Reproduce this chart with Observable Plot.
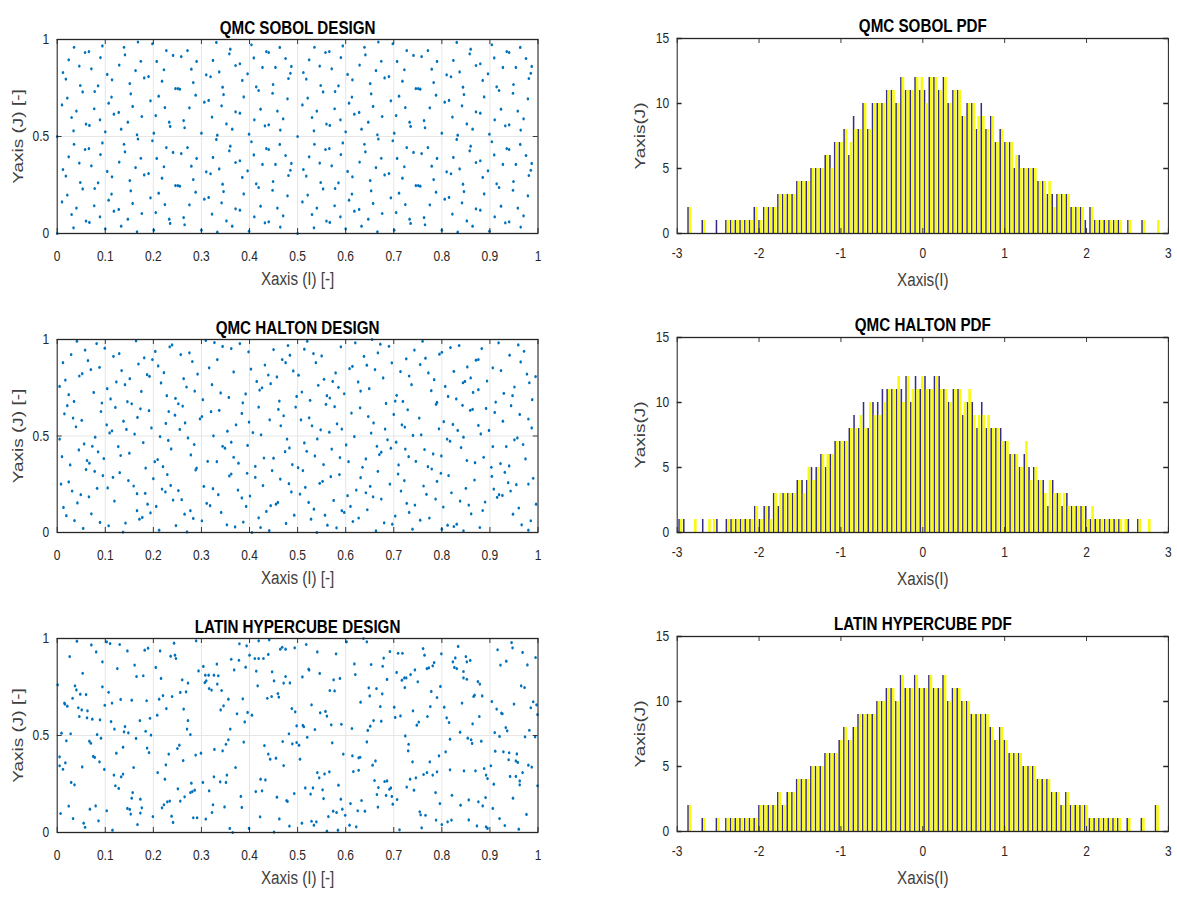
<!DOCTYPE html>
<html><head><meta charset="utf-8">
<script src="https://cdn.jsdelivr.net/npm/d3@7"></script>
<script src="https://cdn.jsdelivr.net/npm/@observablehq/plot@0.6"></script>
<style>
html,body{margin:0;padding:0;background:#fff;}
#page{position:relative;width:1177px;height:900px;overflow:hidden;background:#fff;}
#stage{position:absolute;left:0;top:0;width:1472px;height:900px;transform:scaleX(0.8);transform-origin:0 0;}
#stage svg{position:absolute;overflow:visible;}
</style></head><body><div id="page"><div id="stage"></div></div>
<script>
// ---------- DATA ----------
const designXTicks = [0,0.1,0.2,0.3,0.4,0.5,0.6,0.7,0.8,0.9,1];
const designYTicks = [0,0.5,1];
const pdfXTicks = [-3,-2,-1,0,1,2,3];
const pdfYTicks = [0,5,10,15];

const sobolX = [
.035,.058,.066,.094,.024,.090,.046,.071,.012,.018,.048,.053,.078,.085,.021,.010,.040,.077,.030,.060,.067,.089,.034,0,.139,.141,.168,.129,.174,.104,.114,.163,.181,.190,.151,.153,.113,.107,.157,.194,.118,.128,.176,.147,.133,.166,.100,.198,.227,.241,.258,.271,.207,.290,.222,.279,.218,.283,.246,.251,.255,.288,.211,.224,.275,.205,.263,.233,.235,.265,.201,.331,.360,.358,.324,.371,.380,.337,.310,.319,.385,.396,.346,.344,.388,.306,.315,.342,.322,.371,.380,.352,.364,.333,.300,.404,.435,.440,.463,.409,.475,.427,.454,.487,.414,.419,.448,.449,.481,.485,.479,.423,.458,.470,.410,.432,.440,.464,.399,
.535,.558,.566,.594,.524,.590,.546,.571,.512,.518,.548,.553,.578,.585,.521,.510,.540,.577,.530,.560,.567,.589,.534,.5,.639,.641,.668,.629,.674,.604,.614,.663,.681,.690,.651,.653,.613,.607,.657,.694,.618,.628,.676,.647,.633,.666,.600,.698,.727,.741,.758,.771,.707,.790,.722,.779,.718,.783,.746,.751,.755,.788,.711,.724,.775,.705,.763,.733,.735,.765,.701,.831,.860,.858,.824,.871,.880,.837,.810,.819,.885,.896,.846,.844,.888,.806,.815,.842,.822,.871,.880,.852,.864,.833,.800,.904,.935,.940,.963,.909,.975,.927,.954,.987,.914,.919,.948,.949,.981,.985,.979,.923,.958,.970,.910,.932,.940,.964,.899,
.035,.058,.066,.094,.024,.090,.046,.071,.012,.018,.048,.053,.078,.085,.021,.010,.040,.077,.030,.060,.067,.089,.034,0,.139,.141,.168,.129,.174,.104,.114,.163,.181,.190,.151,.153,.113,.107,.157,.194,.118,.128,.176,.147,.133,.166,.100,.198,.227,.241,.258,.271,.207,.290,.222,.279,.218,.283,.246,.251,.255,.288,.211,.224,.275,.205,.263,.233,.235,.265,.201,.331,.360,.358,.324,.371,.380,.337,.310,.319,.385,.396,.346,.344,.388,.306,.315,.342,.322,.371,.380,.352,.364,.333,.300,.404,.435,.440,.463,.409,.475,.427,.454,.487,.414,.419,.448,.449,.481,.485,.479,.423,.458,.470,.410,.432,.440,.464,.399,
.535,.558,.566,.594,.524,.590,.546,.571,.512,.518,.548,.553,.578,.585,.521,.510,.540,.577,.530,.560,.567,.589,.534,.5,.639,.641,.668,.629,.674,.604,.614,.663,.681,.690,.651,.653,.613,.607,.657,.694,.618,.628,.676,.647,.633,.666,.600,.698,.727,.741,.758,.771,.707,.790,.722,.779,.718,.783,.746,.751,.755,.788,.711,.724,.775,.705,.763,.733,.735,.765,.701,.831,.860,.858,.824,.871,.880,.837,.810,.819,.885,.896,.846,.844,.888,.806,.815,.842,.822,.871,.880,.852,.864,.833,.800,.904,.935,.940,.963,.909,.975,.927,.954,.987,.914,.919,.948,.949,.981,.985,.979,.923,.958,.970,.910,.932,.940,.964,.899
];
const sobolY = [
.460,.433,.438,.467,.395,.407,.363,.349,.330,.296,.263,.230,.232,.261,.198,.163,.131,.143,.098,.064,.057,.086,.029,0,.460,.421,.487,.368,.388,.320,.292,.340,.302,.309,.273,.220,.203,.172,.155,.184,.115,.124,.103,.074,.038,.009,.024,.478,.443,.418,.412,.443,.387,.387,.344,.347,.285,.278,.247,.247,.244,.213,.208,.149,.148,.108,.082,.074,.052,.045,.017,.485,.450,.426,.392,.366,.375,.333,.318,.308,.289,.323,.216,.254,.204,.177,.186,.158,.100,.127,.120,.065,.038,.007,.017,.473,.438,.433,.459,.405,.402,.356,.356,.361,.256,.237,.223,.268,.299,.326,.194,.141,.131,.091,.086,.055,.060,.033,.012,
.460,.433,.438,.467,.395,.407,.363,.349,.330,.296,.263,.230,.232,.261,.198,.163,.131,.143,.098,.064,.057,.086,.029,0,.460,.421,.487,.368,.388,.320,.292,.340,.302,.309,.273,.220,.203,.172,.155,.184,.115,.124,.103,.074,.038,.009,.024,.478,.443,.418,.412,.443,.387,.387,.344,.347,.285,.278,.247,.247,.244,.213,.208,.149,.148,.108,.082,.074,.052,.045,.017,.485,.450,.426,.392,.366,.375,.333,.318,.308,.289,.323,.216,.254,.204,.177,.186,.158,.100,.127,.120,.065,.038,.007,.017,.473,.438,.433,.459,.405,.402,.356,.356,.361,.256,.237,.223,.268,.299,.326,.194,.141,.131,.091,.086,.055,.060,.033,.012,
.960,.933,.938,.967,.895,.907,.863,.849,.830,.796,.763,.730,.732,.761,.698,.663,.631,.643,.598,.564,.557,.586,.529,.5,.960,.921,.987,.868,.888,.820,.792,.840,.802,.809,.773,.720,.703,.672,.655,.684,.615,.624,.603,.574,.538,.509,.524,.978,.943,.918,.912,.943,.887,.887,.844,.847,.785,.778,.747,.747,.744,.713,.708,.649,.648,.608,.582,.574,.552,.545,.517,.985,.950,.926,.892,.866,.875,.833,.818,.808,.789,.823,.716,.754,.704,.677,.686,.658,.600,.627,.620,.565,.538,.507,.517,.973,.938,.933,.959,.905,.902,.856,.856,.861,.756,.737,.723,.768,.799,.826,.694,.641,.631,.591,.586,.555,.560,.533,.512,
.960,.933,.938,.967,.895,.907,.863,.849,.830,.796,.763,.730,.732,.761,.698,.663,.631,.643,.598,.564,.557,.586,.529,.5,.960,.921,.987,.868,.888,.820,.792,.840,.802,.809,.773,.720,.703,.672,.655,.684,.615,.624,.603,.574,.538,.509,.524,.978,.943,.918,.912,.943,.887,.887,.844,.847,.785,.778,.747,.747,.744,.713,.708,.649,.648,.608,.582,.574,.552,.545,.517,.985,.950,.926,.892,.866,.875,.833,.818,.808,.789,.823,.716,.754,.704,.677,.686,.658,.600,.627,.620,.565,.538,.507,.517,.973,.938,.933,.959,.905,.902,.856,.856,.861,.756,.737,.723,.768,.799,.826,.694,.641,.631,.591,.586,.555,.560,.533,.512
];

const haltonPoints = [
[.041,.991],[.082,.979],[.058,.945],[.029,.922],[.099,.955],[.012,.880],[.064,.891],[.070,.844],[.088,.856],[.046,.811],[.052,.823],[.017,.790],[.076,.726],[.005,.757],[.024,.714],[.035,.679],[.021,.657],[.093,.671],[.091,.627],[.015,.615],[.033,.593],[.051,.581],[.039,.548],[.079,.494],[.005,.484],[.056,.459],[.045,.428],[.073,.447],[.085,.418],[.010,.393],[.062,.373],[.067,.359],[.097,.383],[.027,.350],[.060,.326],[.078,.317],[.095,.295],[.008,.251],[.024,.262],[.031,.215],[.049,.196],[.066,.185],[.083,.229],[.042,.153],[.013,.130],[.071,.097],[.019,.087],[.036,.062],[.089,.052],[.054,.021],
[.164,.993],[.117,.913],[.129,.927],[.181,.905],[.169,.873],[.198,.896],[.134,.839],[.187,.818],[.192,.809],[.123,.780],[.151,.797],[.141,.766],[.175,.731],[.104,.745],[.111,.692],[.146,.678],[.155,.667],[.121,.648],[.173,.641],[.191,.631],[.138,.577],[.167,.596],[.103,.558],[.144,.534],[.114,.527],[.109,.516],[.196,.542],[.161,.510],[.127,.445],[.179,.466],[.132,.399],[.150,.411],[.116,.286],[.130,.310],[.148,.269],[.184,.334],[.105,.231],[.159,.241],[.166,.201],[.183,.203],[.119,.163],[.188,.147],[.166,.113],[.194,.102],[.171,.069],[.177,.078],[.107,.035],[.142,.049],[.137,.002],
[.204,.938],[.234,.962],[.239,.972],[.257,.922],[.275,.931],[.281,.886],[.210,.863],[.222,.828],[.292,.821],[.263,.797],[.216,.775],[.269,.754],[.286,.733],[.228,.709],[.246,.695],[.252,.667],[.261,.655],[.232,.627],[.297,.589],[.301,.601],[.245,.608],[.226,.565],[.266,.568],[.255,.534],[.214,.497],[.231,.477],[.272,.490],[.285,.456],[.237,.433],[.278,.402],[.203,.367],[.209,.378],[.220,.341],[.290,.334],[.288,.324],[.229,.300],[.200,.279],[.236,.244],[.218,.225],[.225,.210],[.206,.135],[.252,.217],[.259,.170],[.241,.168],[.265,.095],[.283,.073],[.277,.113],[.247,.036],[.270,.003],[.212,.012],
[.309,.995],[.327,.984],[.344,.964],[.362,.953],[.380,.979],[.398,.936],[.333,.896],[.316,.853],[.367,.832],[.322,.766],[.303,.688],[.340,.723],[.357,.700],[.392,.718],[.386,.672],[.337,.633],[.320,.626],[.384,.617],[.372,.558],[.354,.525],[.399,.572],[.325,.501],[.344,.447],[.349,.437],[.362,.468],[.396,.451],[.367,.390],[.313,.369],[.332,.367],[.377,.359],[.395,.307],[.358,.293],[.362,.303],[.305,.239],[.324,.227],[.335,.196],[.311,.151],[.318,.139],[.341,.104],[.376,.220],[.384,.179],[.401,.189],[.393,.135],[.353,.040],[.370,.029],[.387,.054],[.301,.061],
[.450,.948],[.480,.969],[.484,.919],[.468,.896],[.475,.880],[.432,.868],[.403,.847],[.491,.837],[.439,.816],[.457,.806],[.415,.783],[.444,.771],[.426,.750],[.421,.738],[.498,.705],[.462,.681],[.496,.650],[.419,.650],[.460,.638],[.471,.605],[.442,.584],[.465,.553],[.407,.518],[.424,.506],[.478,.484],[.483,.438],[.474,.419],[.430,.386],[.450,.385],[.489,.352],[.412,.343],[.447,.321],[.464,.277],[.412,.286],[.428,.243],[.482,.253],[.487,.210],[.455,.147],[.459,.156],[.444,.139],[.435,.109],[.419,.076],[.476,.047],[.441,.010],[.423,.026],[.405,0],
[.520,.991],[.514,.950],[.533,.927],[.538,.880],[.550,.915],[.590,.962],[.555,.794],[.579,.827],[.573,.783],[.585,.752],[.543,.763],[.561,.709],[.567,.697],[.559,.664],[.577,.652],[.597,.719],[.526,.685],[.509,.728],[.507,.584],[.524,.594],[.530,.553],[.548,.532],[.566,.520],[.582,.563],[.592,.536],[.541,.485],[.502,.815],[.514,.464],[.519,.421],[.536,.397],[.554,.352],[.571,.432],[.588,.388],[.587,.300],[.569,.289],[.552,.265],[.546,.255],[.511,.321],[.501,.336],[.516,.234],[.505,.199],[.523,.156],[.534,.121],[.575,.166],[.592,.113],[.597,.104],[.557,.090],[.528,.069],[.562,.038],[.581,.024],[.540,0],[.493,.090],
[.620,.983],[.655,1],[.672,.976],[.690,.965],[.638,.913],[.667,.931],[.608,.849],[.614,.861],[.644,.867],[.696,.879],[.661,.844],[.678,.801],[.626,.780],[.631,.733],[.649,.745],[.612,.619],[.630,.646],[.647,.601],[.658,.568],[.684,.669],[.700,.612],[.706,.711],[.682,.536],[.653,.515],[.618,.497],[.601,.454],[.687,.480],[.694,.437],[.665,.447],[.642,.381],[.635,.338],[.631,.284],[.606,.367],[.667,.317],[.674,.416],[.670,.404],[.692,.251],[.651,.239],[.642,.206],[.622,.220],[.657,.185],[.674,.173],[.604,.191],[.610,.135],[.645,.118],[.627,.075],[.615,.057],[.680,.050],[.663,.009],[.697,.043],[.703,.085],
[.743,.945],[.726,.900],[.760,.991],[.766,.903],[.755,.870],[.714,.834],[.732,.811],[.772,.827],[.784,.792],[.737,.766],[.778,.735],[.795,.924],[.800,.934],[.703,.681],[.719,.679],[.729,.636],[.753,.593],[.717,.558],[.723,.546],[.740,.503],[.757,.506],[.788,.664],[.790,.674],[.794,.537],[.705,.468],[.724,.432],[.731,.393],[.764,.430],[.746,.369],[.771,.341],[.779,.329],[.782,.407],[.799,.397],[.798,.307],[.790,.265],[.710,.350],[.709,.303],[.722,.269],[.715,.215],[.762,.241],[.768,.198],[.787,.173],[.727,.151],[.732,.104],[.744,.142],[.755,.064],[.774,.075],[.739,.017],[.800,.017],
[.818,.958],[.836,.969],[.883,.953],[.871,.893],[.876,.896],[.853,.858],[.825,.835],[.807,.757],[.813,.705],[.830,.692],[.843,.659],[.859,.633],[.864,.638],[.848,.783],[.844,.776],[.860,.801],[.894,.785],[.865,.726],[.876,.740],[.892,.643],[.804,.574],[.823,.560],[.833,.529],[.845,.494],[.876,.555],[.881,.511],[.898,.529],[.811,.484],[.817,.473],[.840,.440],[.852,.373],[.869,.362],[.887,.390],[.814,.295],[.820,.206],[.803,.132],[.812,.038],[.825,.031],[.831,.043],[.845,.009],[.850,.229],[.838,.163],[.856,.142],[.861,.097],[.879,.026],[.885,.114],[.890,.158],[.868,.272],
[.918,.983],[.959,.972],[.971,.939],[.941,.919],[.964,.884],[.906,.853],[.923,.839],[.977,.821],[.982,.776],[.995,.808],[.929,.721],[.947,.709],[.944,.657],[.951,.754],[.912,.676],[.910,.622],[.962,.612],[.980,.588],[.988,.688],[.927,.577],[.987,.542],[.906,.445],[.957,.490],[.951,.480],[.969,.456],[.934,.445],[.974,.381],[.922,.357],[.940,.345],[.903,.338],[.904,.291],[.931,.312],[.908,.225],[.938,.258],[.955,.248],[.990,.281],[.980,.251],[.919,.196],[.915,.182],[.926,.192],[.943,.215],[.996,.147],[.948,.095],[.960,.127],[.966,.040],[.980,.012],[.985,.061]
];

const lhsPoints = [
[.041,.986],[.071,.967],[.081,.931],[.026,.907],[.053,.821],[.094,.880],[.001,.761],[.037,.756],[.040,.735],[.048,.713],[.060,.711],[.032,.692],[.015,.667],[.016,.662],[.021,.651],[.044,.643],[.051,.632],[.063,.627],[.046,.598],[.062,.591],[.073,.584],[.089,.581],[.094,.751],[.099,.656],[.009,.512],[.028,.509],[.019,.473],[.067,.471],[.070,.460],[.083,.505],[.091,.486],[.005,.390],[.017,.359],[.005,.344],[.012,.326],[.052,.338],[.075,.392],[.078,.387],[.088,.364],[.098,.325],[.029,.258],[.036,.246],[.024,.136],[.007,.098],[.033,.072],[.055,.048],[.058,.027],[.068,.120],[.080,.137],[.086,.060],
[.103,.983],[.110,.974],[.130,.969],[.146,.936],[.182,.940],[.189,.950],[.125,.845],[.161,.863],[.165,.804],[.179,.808],[.107,.723],[.114,.667],[.132,.686],[.155,.682],[.186,.679],[.119,.533],[.141,.546],[.139,.519],[.148,.514],[.164,.485],[.172,.577],[.184,.522],[.193,.589],[.112,.572],[.123,.409],[.137,.440],[.187,.435],[.191,.412],[.118,.296],[.133,.287],[.137,.301],[.159,.335],[.121,.241],[.128,.227],[.146,.124],[.151,.119],[.153,.095],[.157,.206],[.155,.177],[.173,.172],[.176,.127],[.173,.100],[.167,.041],[.115,.012],[.103,.112],
[.205,.851],[.214,.936],[.236,.909],[.245,.914],[.247,.897],[.243,.976],[.216,.794],[.260,.787],[.272,.770],[.256,.722],[.268,.725],[.289,.988],[.294,.833],[.212,.687],[.220,.706],[.239,.701],[.227,.639],[.208,.605],[.195,.502],[.232,.404],[.250,.433],[.254,.450],[.262,.371],[.288,.399],[.299,.409],[.270,.533],[.272,.577],[.263,.636],[.277,.505],[.209,.309],[.224,.275],[.226,.349],[.251,.225],[.256,.162],[.265,.184],[.277,.206],[.281,.211],[.286,.218],[.279,.254],[.218,.127],[.222,.143],[.229,.158],[.234,.162],[.238,.084],[.241,.052],[.283,.076],[.291,.076],[.199,.082],
[.304,.856],[.308,.811],[.315,.811],[.326,.811],[.335,.808],[.307,.773],[.310,.782],[.316,.742],[.321,.734],[.332,.868],[.333,.765],[.342,.732],[.362,.893],[.368,.838],[.378,.888],[.392,.852],[.394,.962],[.379,.973],[.400,.914],[.346,.653],[.340,.632],[.356,.687],[.374,.612],[.386,.689],[.390,.570],[.396,.619],[.405,.605],[.360,.533],[.327,.428],[.344,.421],[.351,.455],[.356,.478],[.388,.466],[.371,.335],[.353,.296],[.351,.258],[.339,.261],[.326,.287],[.316,.215],[.303,.258],[.324,.143],[.322,.103],[.309,.069],[.348,.132],[.382,.186],[.384,.129],[.359,.021],[.365,0],[.399,.021],
[.419,.988],[.441,.993],[.411,.897],[.419,.897],[.429,.897],[.439,.918],[.464,.945],[.468,.955],[.475,.945],[.494,.952],[.414,.832],[.417,.756],[.447,.828],[.451,.782],[.471,.770],[.484,.771],[.475,.804],[.446,.701],[.437,.692],[.459,.716],[.461,.698],[.488,.639],[.498,.550],[.482,.509],[.498,.464],[.489,.457],[.431,.448],[.469,.469],[.439,.404],[.443,.378],[.455,.383],[.471,.345],[.423,.275],[.433,.271],[.426,.215],[.413,.211],[.457,.182],[.477,.165],[.479,.160],[.462,.070],[.422,.081],[.451,.002],[.483,.033],
[.495,.622],[.503,.450],[.505,.378],[.493,.201],[.518,.969],[.541,.931],[.580,.921],[.523,.842],[.524,.837],[.546,.820],[.510,.802],[.567,.732],[.577,.730],[.575,.787],[.588,.794],[.529,.658],[.547,.617],[.558,.624],[.561,.600],[.511,.552],[.513,.545],[.536,.531],[.570,.555],[.591,.558],[.520,.491],[.572,.462],[.541,.309],[.545,.282],[.556,.302],[.566,.313],[.585,.244],[.516,.230],[.527,.198],[.532,.230],[.552,.220],[.554,.175],[.564,.082],[.574,.110],[.581,.103],[.593,.120],[.590,.172],[.509,.048],[.529,.058],[.534,.038],[.539,.055],[.561,.007],[.584,.012],[.599,.089],[.595,.404],
[.602,.983],[.637,1],[.644,.983],[.618,.869],[.620,.814],[.653,.866],[.679,.899],[.677,.857],[.692,.933],[.686,.789],[.648,.746],[.650,.704],[.664,.742],[.676,.715],[.631,.672],[.672,.649],[.658,.577],[.674,.574],[.613,.536],[.646,.526],[.651,.548],[.644,.467],[.614,.395],[.627,.385],[.630,.388],[.616,.314],[.627,.321],[.656,.347],[.662,.369],[.660,.268],[.668,.232],[.665,.196],[.681,.263],[.686,.266],[.694,.230],[.691,.223],[.684,.191],[.696,.186],[.707,.170],[.698,.146],[.667,.131],[.633,.165],[.640,.110],[.625,.112],[.610,.149],[.608,.038],[.622,.029],
[.709,.924],[.718,.924],[.706,.825],[.761,.948],[.764,.914],[.769,.845],[.773,.849],[.781,.859],[.784,.876],[.799,.921],[.717,.785],[.722,.797],[.726,.797],[.735,.814],[.744,.838],[.750,.777],[.723,.747],[.701,.646],[.703,.593],[.714,.601],[.740,.627],[.752,.569],[.748,.553],[.770,.598],[.776,.649],[.790,.696],[.797,.753],[.778,.727],[.724,.498],[.731,.455],[.730,.421],[.739,.364],[.775,.364],[.734,.275],[.746,.282],[.762,.299],[.769,.309],[.781,.296],[.790,.313],[.794,.395],[.742,.218],[.727,.234],[.787,.206],[.796,.149],[.754,.107],[.756,.091],[.766,.089],[.758,.024],[.788,.064],[.800,.041],[.712,.014],
[.823,.880],[.834,.959],[.828,.900],[.826,.851],[.831,.845],[.850,.907],[.852,.880],[.859,.887],[.845,.797],[.852,.790],[.845,.830],[.875,.778],[.879,.765],[.866,.701],[.868,.708],[.884,.704],[.842,.667],[.805,.646],[.810,.591],[.815,.567],[.864,.560],[.878,.598],[.817,.481],[.838,.517],[.854,.486],[.861,.478],[.863,.459],[.882,.471],[.808,.416],[.817,.323],[.846,.318],[.870,.318],[.888,.330],[.892,.296],[.895,.278],[.821,.192],[.839,.141],[.856,.168],[.876,.158],[.885,.137],[.891,.180],[.812,.055],[.820,.064],[.856,.065],[.873,.034],[.892,.029],[.895,.021],
[.916,.942],[.922,.863],[.934,.883],[.945,.979],[.947,.952],[.968,.928],[.978,.864],[.995,.902],[.965,.756],[.972,.747],[.904,.675],[.914,.636],[.924,.615],[.926,.612],[.950,.662],[.985,.643],[.990,.674],[.997,.658],[.999,.608],[.933,.541],[.936,.524],[.920,.495],[.910,.515],[.973,.493],[.982,.527],[.994,.493],[.911,.419],[.928,.416],[.940,.411],[.939,.375],[.954,.369],[.958,.361],[.956,.405],[.902,.344],[.908,.249],[.942,.289],[.954,.289],[.962,.266],[.962,.246],[.980,.347],[.987,.337],[.968,.309],[.999,.241],[.906,.124],[.920,.072],[.931,.036],[.948,.177],[.976,.093],[.960,.017]
];

// histogram bins: first and last bin centre, and counts per bin (navy = column 1, yellow = column 2)
const sobolBins = [-2.853, 2.866];
const sobolNavy   = [2,0,0,1,0,0,1,0,1,1, 1,1,1,1,2,1,2,2,2,3, 3,3,3,4,4,4,5,5,5,6, 6,7,7,8,6,9,8,10,8,10, 10,10,11,11,10,12,11,11,12,11, 11,12,12,11,12,10,11,11,9,10, 10,8,10,8,9,7,8,7,7,5, 6,5,5,5,4,4,3,3,3,3, 3,2,2,2,1,2,1,1,1,1, 1,1,0,1,0,0,1,0,0,0];
const sobolYellow = [2,0,0,1,0,0,0,0,1,1, 1,1,1,1,2,1,2,2,2,3, 3,3,3,4,4,4,5,5,5,6, 5,7,7,8,7,8,8,10,8,10, 10,10,11,11,10,12,11,11,12,12, 10,12,12,11,12,10,11,11,9,10, 10,9,9,8,9,7,8,7,7,6, 5,5,5,5,4,4,4,2,3,3, 3,2,2,2,0,2,1,1,1,1, 1,1,0,1,0,0,1,0,0,1];
const haltonBins = [-2.963, 2.756];
const haltonNavy   = [1,1,0,0,0,1,0,0,1,0, 1,1,1,1,1,1,2,1,2,2, 3,2,3,3,3,4,4,4,5,5, 6,5,6,7,7,7,8,9,8,10, 8,10,10,11,11,11,11,11,12,10, 12,11,12,11,12,12,11,10,11,11, 9,10,10,8,10,8,8,8,8,7, 6,6,5,6,5,5,4,4,2,4, 3,2,3,2,2,2,2,1,1,1, 1,1,1,1,0,1,0,1,0,0];
const haltonYellow = [1,0,0,1,0,0,1,1,0,0, 1,1,1,1,1,1,2,1,2,1, 3,3,3,3,3,4,3,5,4,5, 6,6,6,7,7,7,8,8,9,8, 10,9,9,10,11,11,12,10,12,11, 11,12,11,11,12,11,11,10,11,11, 10,11,9,9,9,9,8,8,7,7, 6,6,5,7,4,5,4,3,4,3, 3,3,2,2,2,2,1,2,1,1, 1,1,1,1,1,0,0,1,0,1];
const lhsBins = [-2.853, 2.857];
const lhsNavy   = [2,0,0,1,0,0,1,0,1,1, 1,1,1,1,1,2,2,2,2,3, 2,3,3,4,4,4,5,5,5,6, 6,6,7,8,7,8,9,9,9,9, 10,10,11,11,10,12,11,11,12,11, 11,12,11,11,12,10,11,11,10,10, 9,9,9,9,8,7,8,7,6,6, 6,5,5,5,4,4,4,3,3,2, 3,2,2,2,2,1,1,1,1,1, 1,1,0,1,0,0,1,0,0,2];
const lhsYellow = [2,0,0,1,0,0,1,0,1,1, 1,1,1,1,1,2,2,2,2,3, 2,3,3,4,4,4,5,5,5,6, 6,6,7,8,7,8,9,9,9,9, 10,10,11,11,10,12,11,11,12,11, 11,12,11,11,12,10,11,11,10,10, 9,9,9,9,8,7,8,7,6,6, 6,5,5,5,4,4,4,3,3,2, 3,2,2,2,2,1,1,1,1,1, 1,1,0,1,0,0,1,0,0,2];

// ---------- DRAWING ----------
const FONT = "'Liberation Sans', Arial, Helvetica, sans-serif";
const INK = "#262626";
const LABEL = "#404040";
const DOT = "#0072BD";
const NAVY = "#352a87";
const YELLOW = "#f9fb0e";
const stage = document.getElementById("stage");

function place(svg, left, top) {
  svg.style.left = left + "px";
  svg.style.top = top + "px";
  stage.appendChild(svg);
}

function scatterPanel(title, pts, svgTop, fh) {
  const ml = 71, mr = 21, mt = 38, mb = 66, fw = 601;
  const svg = Plot.plot({
    width: ml + fw + mr, height: mt + fh + mb,
    marginLeft: ml, marginRight: mr, marginTop: mt, marginBottom: mb,
    style: {fontFamily: FONT, color: INK, background: "none", overflow: "visible"},
    x: {domain: [0, 1]}, y: {domain: [0, 1]},
    marks: [
      Plot.gridX(designXTicks, {stroke: "#e3e3e3", strokeOpacity: 1}),
      Plot.gridY(designYTicks, {stroke: "#e3e3e3", strokeOpacity: 1}),
      Plot.dot(pts, {x: d => d[0], y: d => d[1], r: 1.6, fill: DOT}),
      Plot.tickX(designXTicks, {x: d => d, insetTop: fh - 5, stroke: INK}),
      Plot.tickX(designXTicks, {x: d => d, insetBottom: fh - 5, stroke: INK}),
      Plot.tickY(designYTicks, {y: d => d, insetRight: fw - 6, stroke: INK}),
      Plot.tickY(designYTicks, {y: d => d, insetLeft: fw - 6, stroke: INK}),
      Plot.frame({stroke: INK, strokeWidth: 1.3}),
      Plot.axisX(designXTicks, {tickSize: 0, tickPadding: 17, fontSize: 15, tickFormat: d => String(d), label: null}),
      Plot.axisY(designYTicks, {tickSize: 0, tickPadding: 10, fontSize: 15, tickFormat: d => String(d), label: null}),
      Plot.text([title], {text: d => d, frameAnchor: "top", dy: -19, fontSize: 19, fontWeight: "bold", fill: "#000"}),
      Plot.text(["Xaxis (I) [-]"], {text: d => d, frameAnchor: "bottom", dy: 51, fontSize: 19, fill: LABEL}),
      Plot.text(["Yaxis (J) [-]"], {text: d => d, frameAnchor: "left", textAnchor: "middle", dx: -49, rotate: -90, fontSize: 19, fill: LABEL})
    ]
  });
  place(svg, 0, svgTop);
}

function pdfPanel(title, bins, navy, yellow, svgTop) {
  const ml = 70, mr = 10, mt = 38, mb = 66, fw = 614, fh = 195;
  const w = (bins[1] - bins[0]) / (navy.length - 1);
  const navyBars = navy.map((n, k) => ({x1: bins[0] + k * w - 0.32 * w, x2: bins[0] + k * w, n}));
  const yellowBars = yellow.map((n, k) => ({x1: bins[0] + k * w, x2: bins[0] + k * w + 0.55 * w, n}));
  const svg = Plot.plot({
    width: ml + fw + mr, height: mt + fh + mb,
    marginLeft: ml, marginRight: mr, marginTop: mt, marginBottom: mb,
    style: {fontFamily: FONT, color: INK, background: "none", overflow: "visible"},
    x: {domain: [-3, 3]}, y: {domain: [0, 15]},
    marks: [
      Plot.rect(navyBars.filter(d => d.n > 0), {x1: "x1", x2: "x2", y1: 0, y2: "n", fill: NAVY}),
      Plot.rect(yellowBars.filter(d => d.n > 0), {x1: "x1", x2: "x2", y1: 0, y2: "n", fill: YELLOW}),
      Plot.tickX(pdfXTicks, {x: d => d, insetTop: fh - 5, stroke: INK}),
      Plot.tickX(pdfXTicks, {x: d => d, insetBottom: fh - 5, stroke: INK}),
      Plot.tickY(pdfYTicks, {y: d => d, insetRight: fw - 6, stroke: INK, strokeWidth: 1.5}),
      Plot.tickY(pdfYTicks, {y: d => d, insetLeft: fw - 6, stroke: INK, strokeWidth: 1.5}),
      Plot.frame({stroke: INK, strokeWidth: 1.3}),
      Plot.axisX(pdfXTicks, {tickSize: 0, tickPadding: 14, fontSize: 15, tickFormat: d => String(d), label: null}),
      Plot.axisY(pdfYTicks, {tickSize: 0, tickPadding: 10, fontSize: 15, tickFormat: d => String(d), label: null}),
      Plot.text([title], {text: d => d, frameAnchor: "top", dy: -20, fontSize: 19, fontWeight: "bold", fill: "#000"}),
      Plot.text(["Xaxis(I)"], {text: d => d, frameAnchor: "bottom", dy: 52, fontSize: 19, fill: LABEL}),
      Plot.text(["Yaxis(J)"], {text: d => d, frameAnchor: "left", textAnchor: "middle", dx: -46, rotate: -90, fontSize: 19, fill: LABEL})
    ]
  });
  place(svg, 776, svgTop);
}

const sobolPts = sobolX.map((x, i) => [x, sobolY[i]]);
scatterPanel("QMC SOBOL DESIGN", sobolPts, 1, 194);
scatterPanel("QMC HALTON DESIGN", haltonPoints, 301, 193);
scatterPanel("LATIN HYPERCUBE DESIGN", lhsPoints, 600, 194);
pdfPanel("QMC SOBOL PDF", sobolBins, sobolNavy, sobolYellow, 0);
pdfPanel("QMC HALTON PDF", haltonBins, haltonNavy, haltonYellow, 299);
pdfPanel("LATIN HYPERCUBE PDF", lhsBins, lhsNavy, lhsYellow, 598);
</script>
</body></html>
